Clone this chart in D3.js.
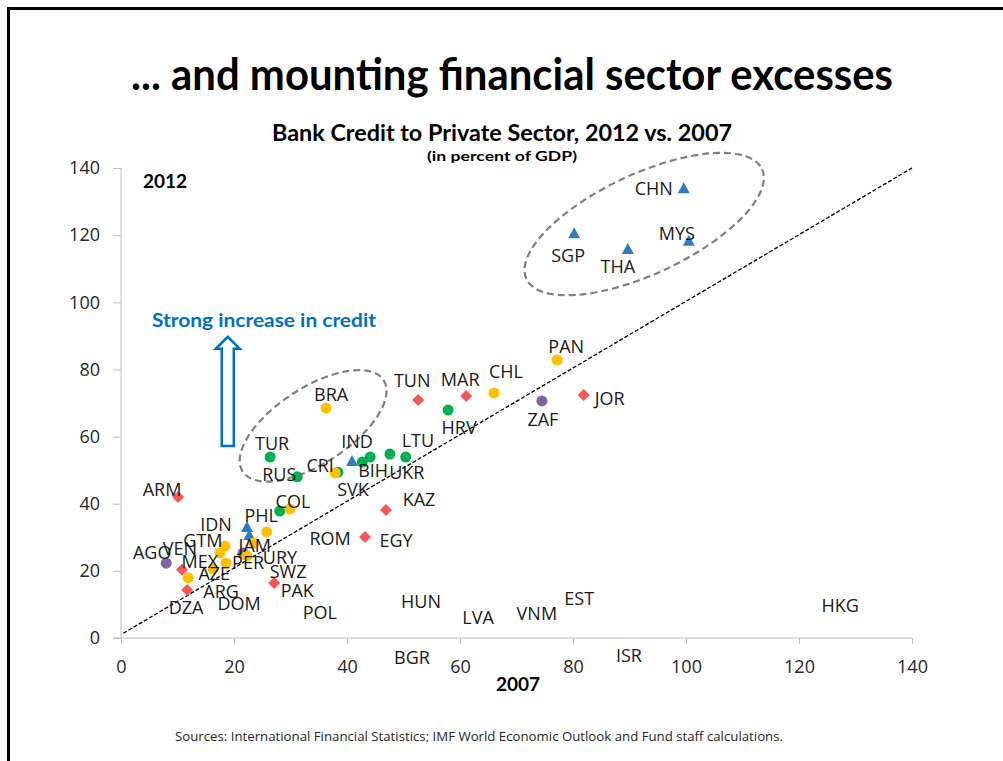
<!DOCTYPE html>
<html>
<head>
<meta charset="utf-8">
<script src="https://cdn.jsdelivr.net/npm/d3@7"></script>
<style>
  body { margin: 0; background: #fff; }
  svg { display: block; }
</style>
</head>
<body>
<svg id="chart" width="1003" height="761"></svg>
<script>
// Bank credit to the private sector, percent of GDP: 2007 (x) vs. 2012 (y)
const countries = ['CHN','SGP','THA','MYS','IND','IDN','PHL',
  'TUR','RUS','SVK','','BIH','LTU','UKR','HRV','',
  'BRA','CRI','COL','CHL','PAN','AZE','ARG','MEX','GTM','PER','URY','JAM','',
  'ZAF','AGO','',
  'JOR','TUN','MAR','KAZ','EGY','ARM','SWZ','VEN','DZA'];
const credit2007 = [99.6, 80.2, 89.7, 100.5, 40.9, 22.3, 22.7,
  26.4, 31.2, 38.4, 42.7, 44.1, 47.6, 50.4, 57.9, 28.1,
  36.3, 37.9, 29.9, 66.0, 77.2, 11.9, 16.3, 17.5, 18.4, 18.6, 22.3, 23.5, 25.8,
  74.5, 8.0, 21.6,
  81.9, 52.6, 61.1, 46.9, 43.2, 10.1, 27.1, 10.8, 11.7];
const credit2012 = [134.0, 120.6, 115.9, 118.3, 52.7, 33.1, 30.7,
  53.9, 48.0, 49.4, 52.4, 53.9, 54.8, 53.9, 67.9, 37.8,
  68.5, 49.2, 38.4, 73.0, 82.8, 17.9, 20.6, 25.3, 27.4, 22.3, 24.4, 28.3, 31.6,
  70.6, 22.3, 25.3,
  72.4, 70.9, 72.1, 38.1, 30.1, 42.0, 16.4, 20.3, 14.3];
const regions = ['asia','asia','asia','asia','asia','asia','asia',
  'europe','europe','europe','europe','europe','europe','europe','europe','europe',
  'latam','latam','latam','latam','latam','latam','latam','latam','latam','latam','latam','latam','latam',
  'africa','africa','africa',
  'mena','mena','mena','mena','mena','mena','mena','mena','mena'];

// Country codes written on the chart without a plotted marker (anchored in axis units)
const looseCodes = ['PAK','POL','DOM','ROM','HUN','LVA','VNM','EST','HKG','BGR','ISR'];
const looseX     = [31.2, 35.2, 20.9, 37.0, 53.1, 63.2, 73.6, 81.1, 127.3, 51.5, 89.9];
const looseY     = [14.3, 7.7, 10.4, 29.8, 11.0, 6.3, 7.4, 11.9, 9.8, -5.7, -5.1];

const xTicks = [0, 20, 40, 60, 80, 100, 120, 140];
const yTicks = [0, 20, 40, 60, 80, 100, 120, 140];
const diagonal = [[0.4, 1.4], [140, 140]];

// Label nudges (pixels) from each marker to the centre of its code
const labelNudge = {
  CHN: [-30, 0], SGP: [-6, 22], THA: [-10, 17], MYS: [-12, -8], IND: [5, -20],
  IDN: [-31, -3], PHL: [12, -20], TUR: [2, -14], RUS: [-18, -3], SVK: [15, 17],
  BIH: [3, 13], LTU: [28, -14], UKR: [1, 15], HRV: [11, 17], BRA: [5, -14],
  CRI: [-15, -8], COL: [3, -8], CHL: [12, -22], PAN: [9, -14], ZAF: [1, 18],
  JOR: [26, 3], TUN: [-6, -20], MAR: [-6, -17], KAZ: [33, -11], EGY: [31, 3],
  ARM: [-16, -8], SWZ: [14, -12], AGO: [-14, -11], VEN: [-2, -22], DZA: [-1, 17],
  AZE: [26, -5], ARG: [8, 22], MEX: [-20, 8], GTM: [-22, -6], PER: [22, -1],
  URY: [33, 1], JAM: [1, 2]
};

const colors = { asia: '#2e7dc0', europe: '#00b050', latam: '#ffc000', africa: '#8064a2', mena: '#f85656' };
const drawOrder = ['africa', 'europe', 'mena', 'asia', 'latam'];

const svg = d3.select('#chart');
const x = d3.scaleLinear().domain([0, 140]).range([121, 912]);
const y = d3.scaleLinear().domain([0, 140]).range([638, 168]);

const boldFont = 'Lato, "Open Sans", sans-serif';
const bodyFont = '"Open Sans", "Noto Sans", sans-serif';

function fitWidth(sel, w) {
  const len = sel.node().getComputedTextLength();
  if (Math.abs(len - w) > 1) sel.attr('textLength', w).attr('lengthAdjust', 'spacingAndGlyphs');
  return sel;
}

// slide frame
svg.append('rect').attr('x', 8.5).attr('y', 8.5).attr('width', 1100).attr('height', 900)
  .attr('fill', 'none').attr('stroke', '#000').attr('stroke-width', 3);

// titles
fitWidth(svg.append('text').attr('x', 512).attr('y', 90).attr('text-anchor', 'middle')
  .style('font-family', boldFont).style('font-weight', 700).style('font-size', '44px').attr('fill', '#000')
  .text('... and mounting financial sector excesses'), 762);
fitWidth(svg.append('text').attr('x', 502).attr('y', 141).attr('text-anchor', 'middle')
  .style('font-family', boldFont).style('font-weight', 700).style('font-size', '22px').attr('fill', '#000')
  .text('Bank Credit to Private Sector, 2012 vs. 2007'), 460);
fitWidth(svg.append('text').attr('x', 502).attr('y', 161).attr('text-anchor', 'middle')
  .style('font-family', boldFont).style('font-weight', 700).style('font-size', '14px').attr('fill', '#000')
  .text('(in percent of GDP)'), 150);

// axes
const axisColor = '#bfbfbf';
const yAxis = svg.append('g').attr('transform', `translate(${x(0)},0)`)
  .call(d3.axisLeft(y).tickValues(yTicks).tickSize(8).tickPadding(13).tickFormat(d3.format('d')));
const xAxis = svg.append('g').attr('transform', `translate(0,${y(0)})`)
  .call(d3.axisBottom(x).tickValues(xTicks).tickSize(6).tickPadding(16).tickFormat(d3.format('d')));
[xAxis, yAxis].forEach(g => {
  g.select('.domain').remove();
  g.selectAll('.tick line').attr('stroke', axisColor);
  g.selectAll('.tick text').style('font-family', bodyFont).style('font-size', '18px').attr('fill', '#262626');
});
svg.append('line').attr('x1', x(0)).attr('x2', x(0)).attr('y1', y(140)).attr('y2', y(0)).attr('stroke', axisColor);
svg.append('line').attr('x1', x(0) - 8).attr('x2', x(140)).attr('y1', y(0)).attr('y2', y(0)).attr('stroke', axisColor);

// axis captions
fitWidth(svg.append('text').attr('x', 143).attr('y', 188)
  .style('font-family', boldFont).style('font-weight', 700).style('font-size', '19px').attr('fill', '#000')
  .text('2012'), 44);
fitWidth(svg.append('text').attr('x', 496).attr('y', 691)
  .style('font-family', boldFont).style('font-weight', 700).style('font-size', '19px').attr('fill', '#000')
  .text('2007'), 44);

// 45-degree reference line
svg.append('path').attr('d', d3.line().x(d => x(d[0])).y(d => y(d[1]))(diagonal))
  .attr('fill', 'none').attr('stroke', '#000').attr('stroke-width', 1.3).attr('stroke-dasharray', '4,2');

// dashed ellipses around the groups
const rings = [
  { cx: 34.0, cy: 63.2, rx: 84, ry: 38, rot: -33 },
  { cx: 92.6, cy: 123.3, rx: 130, ry: 50, rot: -25 }
];
svg.selectAll('ellipse.ring').data(rings).join('ellipse').attr('class', 'ring')
  .attr('cx', 0).attr('cy', 0).attr('rx', d => d.rx).attr('ry', d => d.ry)
  .attr('transform', d => `translate(${x(d.cx)},${y(d.cy)}) rotate(${d.rot})`)
  .attr('fill', 'none').attr('stroke', '#808080').attr('stroke-width', 2.2).attr('stroke-dasharray', '7,4');

// "Strong increase in credit" note with hollow block arrow
const blue = '#0070c0';
fitWidth(svg.append('text').attr('x', 152).attr('y', 327)
  .style('font-family', boldFont).style('font-weight', 700).style('font-size', '19px').attr('fill', blue)
  .text('Strong increase in credit'), 224);
const ax = x(18.9), tipY = y(89.7), baseY = y(57.2);
const arrow = d3.path();
arrow.moveTo(ax, tipY);
arrow.lineTo(ax + 12, tipY + 12);
arrow.lineTo(ax + 6, tipY + 12);
arrow.lineTo(ax + 6, baseY);
arrow.lineTo(ax - 6, baseY);
arrow.lineTo(ax - 6, tipY + 12);
arrow.lineTo(ax - 12, tipY + 12);
arrow.closePath();
svg.append('path').attr('d', arrow.toString()).attr('fill', '#fff').attr('stroke', blue).attr('stroke-width', 2.5)
  .attr('stroke-linejoin', 'miter');

// markers
const points = countries.map((c, i) => ({ code: c, x: credit2007[i], y: credit2012[i], region: regions[i] }));
const shapes = {
  asia: 'M0,-6L6,5L-6,5Z',
  mena: 'M0,-6L6,0L0,6L-6,0Z'
};
const markerLayer = svg.append('g');
drawOrder.forEach(r => {
  const pts = points.filter(p => p.region === r);
  if (shapes[r]) {
    markerLayer.selectAll(null).data(pts).join('path')
      .attr('d', shapes[r]).attr('transform', d => `translate(${x(d.x)},${y(d.y)})`)
      .attr('fill', colors[r]);
  } else {
    markerLayer.selectAll(null).data(pts).join('circle')
      .attr('cx', d => x(d.x)).attr('cy', d => y(d.y)).attr('r', 5.5)
      .attr('fill', colors[r]);
  }
});

// country codes
const labelStyle = s => s.style('font-family', bodyFont).style('font-size', '18px')
  .attr('fill', '#1a1a1a').attr('text-anchor', 'middle').attr('dominant-baseline', 'central');
svg.append('g').selectAll('text').data(points.filter(p => p.code)).join('text')
  .attr('x', d => x(d.x) + labelNudge[d.code][0]).attr('y', d => y(d.y) + labelNudge[d.code][1])
  .call(labelStyle).text(d => d.code);
svg.append('g').selectAll('text').data(looseCodes.map((c, i) => ({ code: c, x: looseX[i], y: looseY[i] }))).join('text')
  .attr('x', d => x(d.x)).attr('y', d => y(d.y))
  .call(labelStyle).text(d => d.code);

// source note
svg.append('clipPath').attr('id', 'noteClip').append('rect').attr('x', 0).attr('y', 0).attr('width', 1003).attr('height', 742);
fitWidth(svg.append('text').attr('x', 175).attr('y', 741).attr('clip-path', 'url(#noteClip)')
  .style('font-family', bodyFont).style('font-size', '13px').attr('fill', '#262626')
  .text('Sources: International Financial Statistics; IMF World Economic Outlook and Fund staff calculations.'), 608);
</script>
</body>
</html>
